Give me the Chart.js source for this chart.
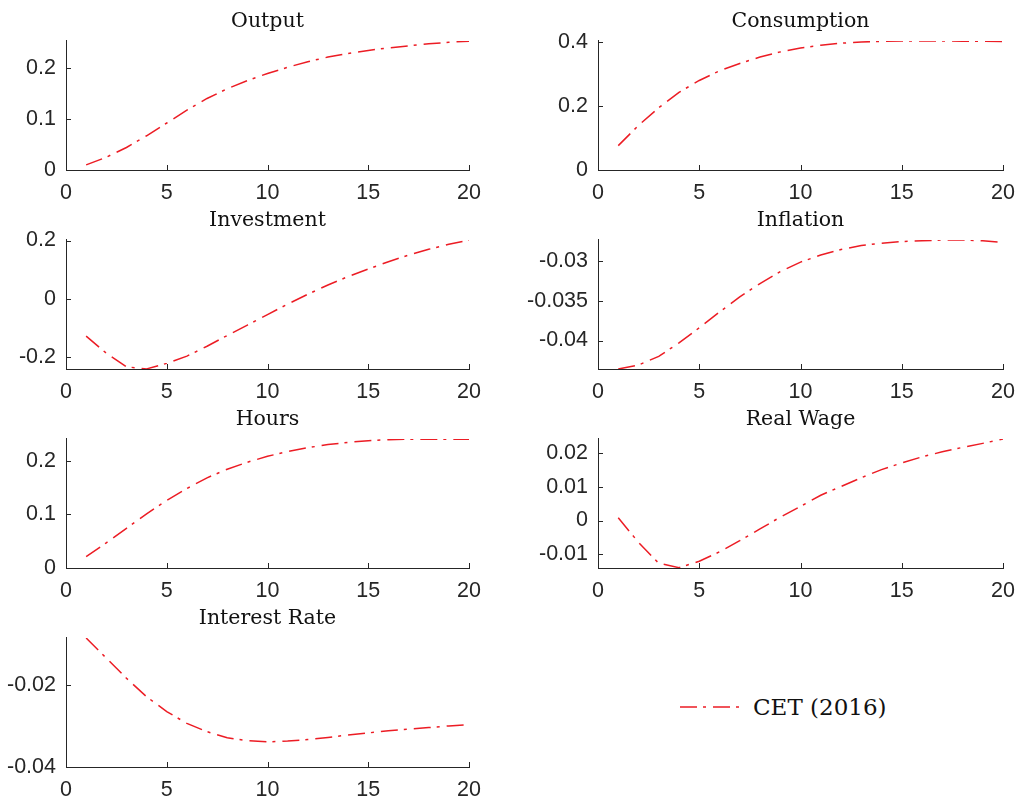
<!DOCTYPE html>
<html>
<head>
<meta charset="utf-8">
<script src="https://cdn.jsdelivr.net/npm/chart.js@4.4.1/dist/chart.umd.min.js"></script>
<style>
  html, body { margin: 0; padding: 0; background: #fff; }
  #wrap { position: relative; width: 1017px; height: 804px; overflow: hidden; }
  #wrap canvas { position: absolute; }
  #legend { position: absolute; left: 680px; top: 691px; height: 32px; display: flex; align-items: center;
            font-family: "DejaVu Serif", serif; font-size: 23px; color: #111; white-space: nowrap; }
  #legend svg { margin-right: 10px; }
</style>
</head>
<body>
<div id="wrap">
  <canvas id="c0" width="500" height="200" style="left:0;top:0"></canvas>
  <canvas id="c1" width="540" height="200" style="left:500px;top:0"></canvas>
  <canvas id="c2" width="500" height="200" style="left:0;top:199px"></canvas>
  <canvas id="c3" width="540" height="200" style="left:500px;top:199px"></canvas>
  <canvas id="c4" width="500" height="200" style="left:0;top:398px"></canvas>
  <canvas id="c5" width="540" height="200" style="left:500px;top:398px"></canvas>
  <canvas id="c6" width="500" height="200" style="left:0;top:597px"></canvas>
  <div id="legend"><svg width="63" height="6"><line id="legLine" x1="0" y1="3" x2="63" y2="3"/></svg><span id="legText"></span></div>
</div>
<script>
// Impulse responses, quarters 1..20
const periods = [1, 2, 3, 4, 5, 6, 7, 8, 9, 10, 11, 12, 13, 14, 15, 16, 17, 18, 19, 20];
const modelLabel = 'CET (2016)';

const outputIrf = [0.010, 0.025, 0.044, 0.067, 0.092, 0.117, 0.140, 0.159, 0.175, 0.189,
                   0.201, 0.212, 0.221, 0.228, 0.234, 0.239, 0.243, 0.247, 0.250, 0.252];
const consumptionIrf = [0.076, 0.139, 0.194, 0.242, 0.279, 0.309, 0.332, 0.352, 0.368, 0.380,
                        0.389, 0.395, 0.399, 0.401, 0.402, 0.402, 0.402, 0.4015, 0.401, 0.400];
const investmentIrf = [-0.129, -0.188, -0.235, -0.242, -0.223, -0.198, -0.164, -0.127, -0.091, -0.055,
                       -0.019, 0.015, 0.047, 0.076, 0.102, 0.127, 0.150, 0.170, 0.187, 0.202];
const inflationIrf = [-0.0436, -0.0431, -0.0420, -0.0403, -0.0384, -0.0364, -0.0345, -0.0328, -0.0313, -0.0301,
                      -0.0292, -0.0285, -0.0280, -0.0277, -0.0275, -0.0274, -0.0273, -0.0273, -0.0274, -0.0276];
const hoursIrf = [0.021, 0.047, 0.074, 0.101, 0.126, 0.148, 0.168, 0.184, 0.197, 0.208,
                  0.217, 0.224, 0.230, 0.234, 0.237, 0.239, 0.2398, 0.240, 0.240, 0.240];
const realWageIrf = [0.0008, -0.0065, -0.0127, -0.0140, -0.0121, -0.0093, -0.0060, -0.0025, 0.0010, 0.0042,
                     0.0075, 0.0101, 0.0127, 0.0151, 0.0171, 0.0189, 0.0204, 0.0217, 0.0229, 0.0242];
const interestIrf = [-0.0086, -0.0135, -0.0184, -0.0229, -0.0265, -0.0294, -0.0314, -0.0329, -0.0336, -0.0339,
                     -0.0337, -0.0333, -0.0328, -0.0322, -0.0317, -0.0312, -0.0308, -0.0304, -0.0300, -0.0297];

const panelTitles = ['Output', 'Consumption', 'Investment', 'Inflation', 'Hours', 'Real Wage', 'Interest Rate'];
const panelSeries = [outputIrf, consumptionIrf, investmentIrf, inflationIrf, hoursIrf, realWageIrf, interestIrf];

// y-axis limits and tick labels per panel
const yLimits = [[0, 0.2525], [0, 0.402], [-0.2424, 0.202], [-0.0436, -0.0273], [0, 0.2403], [-0.0141, 0.0242], [-0.04, -0.0086]];
const yTicks = [[0, 0.1, 0.2], [0, 0.2, 0.4], [-0.2, 0, 0.2], [-0.04, -0.035, -0.03], [0, 0.1, 0.2], [-0.01, 0, 0.01, 0.02], [-0.04, -0.02]];
const xTicks = [0, 5, 10, 15, 20];

const AXIS = '#262626';
const LINE = 'rgb(236, 28, 36)';
const DASH = [17, 6, 3, 7];

// MATLAB-style tick marks pointing into the plot area
const inwardTicks = {
  id: 'inwardTicks',
  afterDraw(chart) {
    const { ctx, chartArea: a, scales: { x, y } } = chart;
    ctx.save();
    ctx.strokeStyle = AXIS;
    ctx.lineWidth = 1;
    ctx.beginPath();
    x.ticks.forEach(t => {
      const px = Math.round(x.getPixelForValue(t.value)) + 0.5;
      ctx.moveTo(px, a.bottom); ctx.lineTo(px, a.bottom - 5);
    });
    y.ticks.forEach(t => {
      const py = Math.round(y.getPixelForValue(t.value)) + 0.5;
      ctx.moveTo(a.left, py); ctx.lineTo(a.left + 5, py);
    });
    ctx.stroke();
    ctx.restore();
  }
};

const tickFont = { family: '"Liberation Sans", Arial, sans-serif', size: 21.5 };
const fmt = v => String(Math.round(v * 100000) / 100000);

panelTitles.forEach((title, i) => {
  const rightCol = i % 2 === 1;
  const series = panelSeries[i];
  new Chart(document.getElementById('c' + i), {
    type: 'line',
    data: {
      datasets: [{
        label: modelLabel,
        data: periods.map((p, k) => ({ x: p, y: series[k] })),
        borderColor: LINE,
        borderWidth: 1.5,
        borderDash: DASH,
        pointRadius: 0,
        tension: 0,
        fill: false
      }]
    },
    options: {
      responsive: false,
      animation: false,
      events: [],
      layout: { padding: { left: 0, right: rightCol ? 37 : 31, top: 0, bottom: 0 } },
      plugins: {
        legend: { display: false },
        tooltip: { enabled: false },
        title: {
          display: true,
          text: title,
          fullSize: false,
          color: '#111',
          font: { family: '"DejaVu Serif", serif', size: 20.5, weight: 'normal', lineHeight: 1.17 },
          padding: { top: 10, bottom: 7 }
        }
      },
      scales: {
        x: {
          type: 'linear',
          min: 0, max: 20,
          afterBuildTicks: s => { s.ticks = xTicks.map(v => ({ value: v })); },
          afterFit: s => { s.height = 30; },
          grid: { display: false, drawTicks: false },
          border: { display: true, color: AXIS, width: 1 },
          ticks: { color: AXIS, font: tickFont, padding: 10, maxRotation: 0, autoSkip: false, callback: v => fmt(v) }
        },
        y: {
          type: 'linear',
          min: yLimits[i][0], max: yLimits[i][1],
          afterBuildTicks: s => { s.ticks = yTicks[i].map(v => ({ value: v })); },
          afterFit: s => { s.width = rightCol ? 98 : 66; },
          grid: { display: false, drawTicks: false },
          border: { display: true, color: AXIS, width: 1 },
          ticks: { color: AXIS, font: tickFont, padding: 10, autoSkip: false, callback: v => fmt(v) }
        }
      }
    },
    plugins: [inwardTicks]
  });
});

// Legend entry for the single model line
const legLine = document.getElementById('legLine');
legLine.setAttribute('stroke', LINE);
legLine.setAttribute('stroke-width', '1.5');
legLine.setAttribute('stroke-dasharray', DASH.join(' '));
document.getElementById('legText').textContent = modelLabel;
</script>
</body>
</html>
